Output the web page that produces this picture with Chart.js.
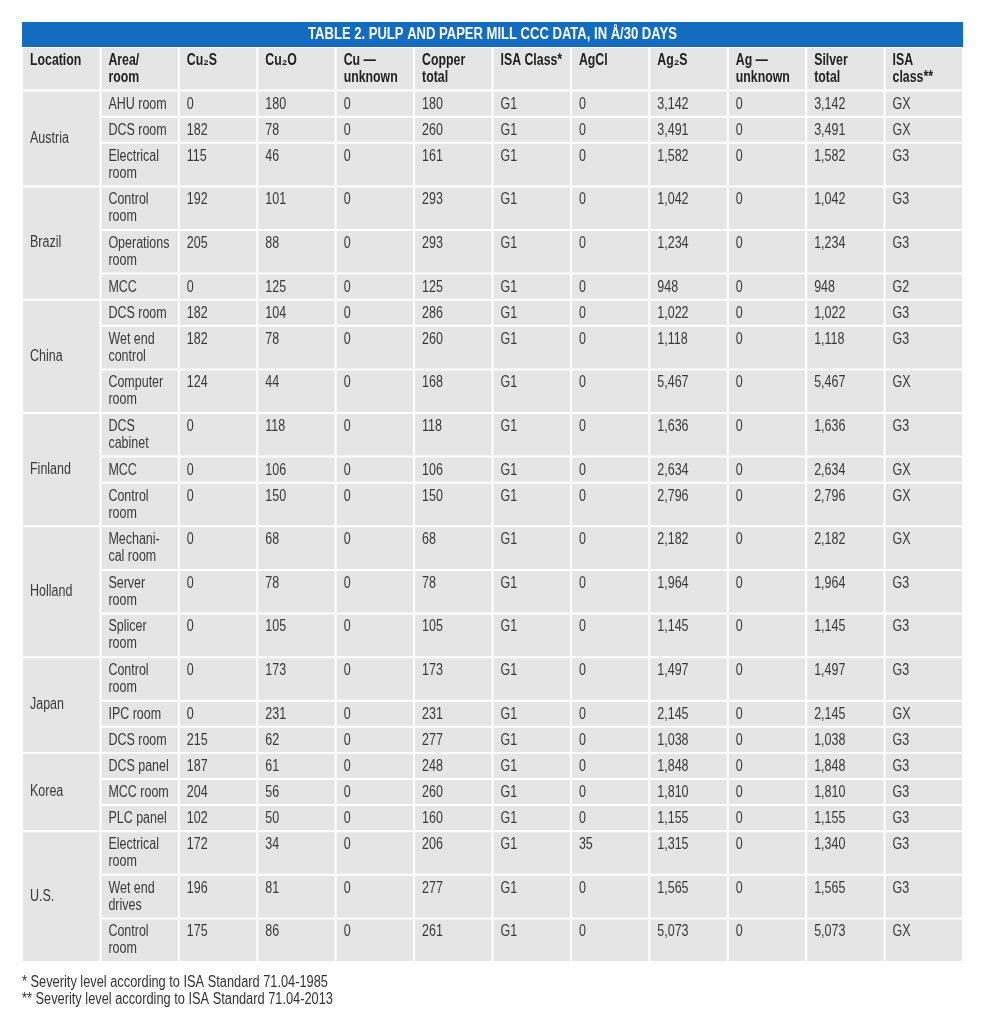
<!DOCTYPE html>
<html><head><meta charset="utf-8">
<script src="https://cdn.jsdelivr.net/npm/chart.js@4.4.0/dist/chart.umd.min.js"></script>
<style>html,body{margin:0;padding:0;background:#fff;} canvas{display:block}</style>
</head><body>
<canvas id="c" width="981" height="1024"></canvas>
<script>
const titleText = "TABLE 2. PULP AND PAPER MILL CCC DATA, IN Å/30 DAYS";
const footnotes = ["* Severity level according to ISA Standard 71.04-1985", "** Severity level according to ISA Standard 71.04-2013"];
const headers = [["Location"],["Area/","room"],["Cu₂S"],["Cu₂O"],["Cu —","unknown"],["Copper","total"],["ISA Class*"],["AgCl"],["Ag₂S"],["Ag —","unknown"],["Silver","total"],["ISA","class**"]];
const locations = ["Austria","Brazil","China","Finland","Holland","Japan","Korea","U.S."];
const roomsPerLocation = [3,3,3,3,3,3,3,3];
const areas = [
  ["AHU room"],["DCS room"],["Electrical","room"],
  ["Control","room"],["Operations","room"],["MCC"],
  ["DCS room"],["Wet end","control"],["Computer","room"],
  ["DCS","cabinet"],["MCC"],["Control","room"],
  ["Mechani-","cal room"],["Server","room"],["Splicer","room"],
  ["Control","room"],["IPC room"],["DCS room"],
  ["DCS panel"],["MCC room"],["PLC panel"],
  ["Electrical","room"],["Wet end","drives"],["Control","room"]
];
const cu2s = [0,182,115, 192,205,0, 182,182,124, 0,0,0, 0,0,0, 0,0,215, 187,204,102, 172,196,175];
const cu2o = [180,78,46, 101,88,125, 104,78,44, 118,106,150, 68,78,105, 173,231,62, 61,56,50, 34,81,86];
const cuUnknown = [0,0,0, 0,0,0, 0,0,0, 0,0,0, 0,0,0, 0,0,0, 0,0,0, 0,0,0];
const copperTotal = [180,260,161, 293,293,125, 286,260,168, 118,106,150, 68,78,105, 173,231,277, 248,260,160, 206,277,261];
const isaClass1985 = ["G1","G1","G1", "G1","G1","G1", "G1","G1","G1", "G1","G1","G1", "G1","G1","G1", "G1","G1","G1", "G1","G1","G1", "G1","G1","G1"];
const agcl = [0,0,0, 0,0,0, 0,0,0, 0,0,0, 0,0,0, 0,0,0, 0,0,0, 35,0,0];
const ag2s = [3142,3491,1582, 1042,1234,948, 1022,1118,5467, 1636,2634,2796, 2182,1964,1145, 1497,2145,1038, 1848,1810,1155, 1315,1565,5073];
const agUnknown = [0,0,0, 0,0,0, 0,0,0, 0,0,0, 0,0,0, 0,0,0, 0,0,0, 0,0,0];
const silverTotal = [3142,3491,1582, 1042,1234,948, 1022,1118,5467, 1636,2634,2796, 2182,1964,1145, 1497,2145,1038, 1848,1810,1155, 1340,1565,5073];
const isaClass2013 = ["GX","GX","G3", "G3","G3","G2", "G3","G3","GX", "G3","GX","GX", "GX","G3","G3", "G3","GX","G3", "G3","G3","G3", "G3","G3","GX"];

const FONT = '"Liberation Sans", Arial, sans-serif';
const fmt = v => typeof v === 'number' ? v.toLocaleString('en-US') : v;

function narrowText(ctx, text, x, y, font, color, sx, align) {
  ctx.save();
  ctx.font = font;
  ctx.fillStyle = color;
  ctx.textBaseline = 'middle';
  ctx.textAlign = align || 'left';
  ctx.translate(x, y);
  ctx.scale(sx, 1);
  ctx.fillText(text, 0, 0);
  ctx.restore();
}

// build cell list (floating bars: x = column, y = [top, bottom])
const colIds = headers.map((h, i) => 'c' + i);
const LINE = 17.5, PAD = 8.5;
const rowH = n => PAD + LINE * n;
const cells = [];
const hH = rowH(Math.max(...headers.map(h => h.length)));
headers.forEach((h, i) => cells.push({x: colIds[i], y: [0, hH], lines: h, bold: true}));
let yPos = hH, r = 0;
locations.forEach((loc, li) => {
  const start = yPos;
  for (let k = 0; k < roomsPerLocation[li]; k++, r++) {
    const vals = [areas[r], cu2s[r], cu2o[r], cuUnknown[r], copperTotal[r], isaClass1985[r], agcl[r], ag2s[r], agUnknown[r], silverTotal[r], isaClass2013[r]];
    const h = rowH(areas[r].length);
    vals.forEach((v, ci) => cells.push({x: colIds[ci + 1], y: [yPos, yPos + h], lines: Array.isArray(v) ? v : [fmt(v)]}));
    yPos += h;
  }
  cells.push({x: colIds[0], y: [start, yPos], lines: [loc], center: true});
});
const totalH = yPos;

const cellText = {
  id: 'cellText',
  afterDatasetsDraw(chart) {
    const ctx = chart.ctx;
    const meta = chart.getDatasetMeta(0);
    meta.data.forEach((el, i) => {
      const c = cells[i];
      const p = el.getProps(['x', 'y', 'base', 'width'], true);
      const top = Math.min(p.y, p.base), bot = Math.max(p.y, p.base);
      const left = p.x - p.width / 2;
      const font = (c.bold ? 'bold ' : '') + '16px ' + FONT;
      const color = c.bold ? '#222222' : '#3a3a3a';
      const n = c.lines.length;
      const y0 = c.center ? (top + bot) / 2 - (n - 1) * 17 / 2 : top + (c.bold ? 14 : 13.5);
      c.lines.forEach((t, j) => narrowText(ctx, t, left + 8, y0 + j * 17, font, color, c.bold ? 0.77 : 0.78));
    });
  },
  afterDraw(chart) {
    const a = chart.chartArea, ctx = chart.ctx;
    // title bar
    ctx.save();
    ctx.fillStyle = '#136cbf';
    ctx.fillRect(a.left, a.top - 25, a.right - a.left, 25);
    ctx.restore();
    narrowText(ctx, titleText, (a.left + a.right) / 2, a.top - 12.5, 'bold 16px ' + FONT, '#ffffff', 0.815, 'center');
    footnotes.forEach((t, j) => narrowText(ctx, t, a.left, a.bottom + 21 + j * 16.5, '16px ' + FONT, '#333333', 0.8));
  }
};

Chart.defaults.font.family = FONT;
new Chart(document.getElementById('c'), {
  type: 'bar',
  data: {
    labels: colIds,
    datasets: [{
      data: cells.map(c => ({x: c.x, y: c.y})),
      backgroundColor: '#e5e5e5',
      borderColor: '#ffffff',
      borderWidth: 1,
      borderSkipped: false,
      inflateAmount: 0,
      barPercentage: 1,
      categoryPercentage: 1
    }]
  },
  options: {
    responsive: false,
    animation: false,
    events: [],
    layout: {padding: {top: 47, left: 22, right: 18, bottom: 62}},
    scales: {
      x: {type: 'category', display: false, offset: true},
      y: {type: 'linear', display: false, reverse: true, min: 0, max: totalH}
    },
    plugins: {
      legend: {display: false},
      tooltip: {enabled: false},
      title: {display: false},
      subtitle: {display: false}
    }
  },
  plugins: [cellText]
});
</script>
</body></html>
